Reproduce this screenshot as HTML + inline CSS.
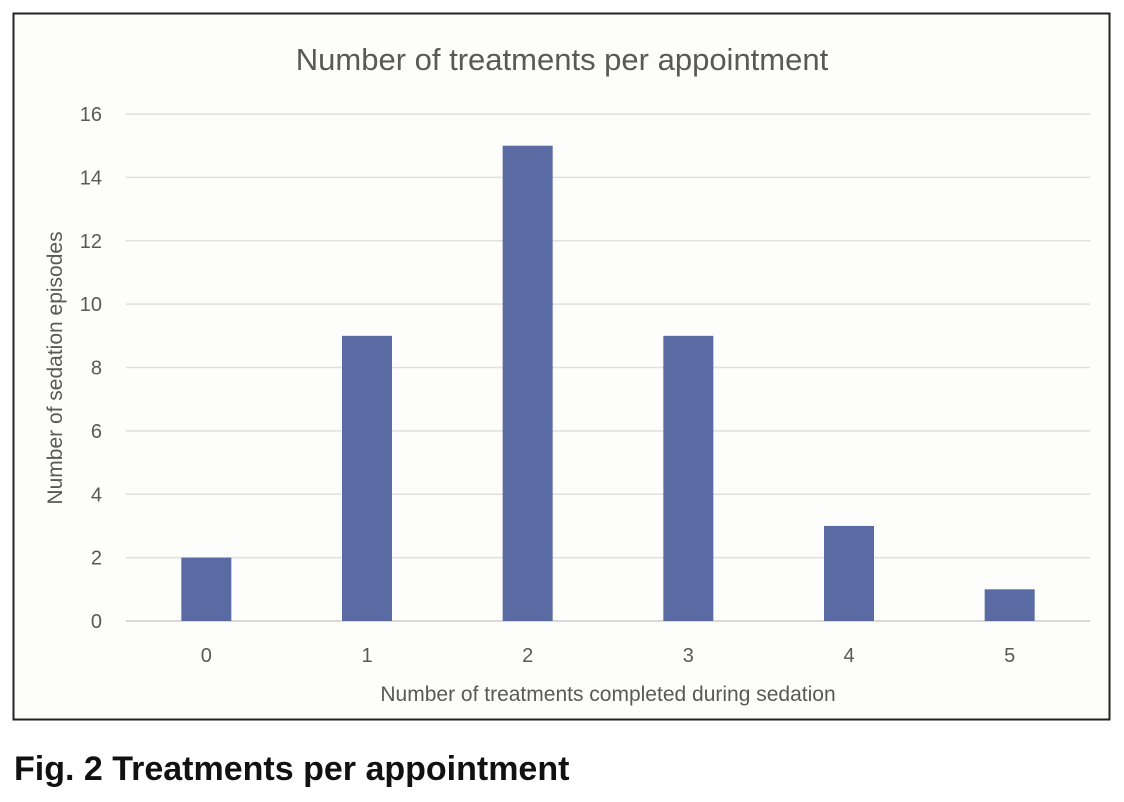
<!DOCTYPE html>
<html><head><meta charset="utf-8"><style>
body{margin:0;background:#fff;width:1124px;height:802px;overflow:hidden;font-family:"Liberation Sans",sans-serif}
svg{position:absolute;left:0;top:0}
</style></head><body>
<svg width="1124" height="802">
<rect x="13.5" y="13.5" width="1096" height="706" fill="#fdfdfc" stroke="#222" stroke-width="2"/>
<text x="562" y="70" text-anchor="middle" font-size="31" fill="#595959">Number of treatments per appointment</text>
<g id="grid"></g><g id="bars"></g><g id="xt"></g><g id="yt"></g>
<text transform="translate(62,368) rotate(-90)" text-anchor="middle" font-size="21" fill="#595959">Number of sedation episodes</text>
<text x="608" y="701" text-anchor="middle" font-size="21" fill="#595959">Number of treatments completed during sedation</text>
<text x="14" y="780" font-size="34" font-weight="bold" fill="#111">Fig. 2  Treatments per appointment</text>
</svg>
<script>
const categories=["0","1","2","3","4","5"];
const values=[2,9,15,9,3,1];
const yTicks=[0,2,4,6,8,10,12,14,16];
const NS="http://www.w3.org/2000/svg";
const x0=126,x1=1090,y0=621,y1=114,ymax=16;
const band=(x1-x0)/categories.length;
const xc=i=>x0+band*(i+0.5);
const y=v=>y0-(y0-y1)*v/ymax;
function mk(t,a,p){const e=document.createElementNS(NS,t);for(const k in a)e.setAttribute(k,a[k]);document.getElementById(p).appendChild(e);return e;}
yTicks.forEach(v=>{
 const l=mk("line",{x1:x0,x2:x1,y1:y(v),y2:y(v),stroke:v===0?"#d0ccc8":"#e2dfdc","stroke-width":1.5},"grid");
 
 
 const t=mk("text",{x:102,y:y(v)+7,"text-anchor":"end","font-size":20,fill:"#595959"},"yt");
 t.textContent=v;
 
 
});
categories.forEach((c,i)=>{
 const r=mk("rect",{x:xc(i)-25,y:y(values[i]),width:50,height:y0-y(values[i]),fill:"#5a6ba3"},"bars");
 
 
 const t=mk("text",{x:xc(i),y:662,"text-anchor":"middle","font-size":20,fill:"#595959"},"xt");
 t.textContent=c;
 
 
});
</script>
</body></html>
